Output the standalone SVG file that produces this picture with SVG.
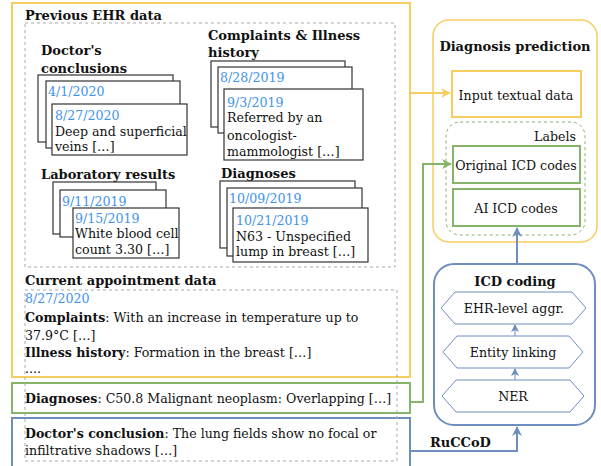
<svg xmlns="http://www.w3.org/2000/svg" width="601" height="466" viewBox="0 0 601 466">
<style>
text{font-family:"DejaVu Serif","Liberation Serif",serif;font-size:12.6px;fill:#111}
.b{font-weight:bold}
.d{fill:#3f92ee}
.t{font-weight:bold;font-size:13px}
.card{fill:#fff;stroke:#333;stroke-width:1.2}
.dash{fill:none;stroke:#aaa;stroke-width:1;stroke-dasharray:3 3}
.y{fill:none;stroke:#f6cd5f;stroke-width:2}
.g{fill:none;stroke:#85b369;stroke-width:2}
.bl{fill:none;stroke:#6d8ebf;stroke-width:2}
.c{text-anchor:middle}
</style>
<defs>
<marker id="ay" markerWidth="10" markerHeight="10" refX="9" refY="5" orient="auto" markerUnits="userSpaceOnUse"><path d="M0,0 L10,5 L0,10 L3,5 z" fill="#f6cd5f"/></marker>
<marker id="ag" markerWidth="10" markerHeight="10" refX="9" refY="5" orient="auto" markerUnits="userSpaceOnUse"><path d="M0,0 L10,5 L0,10 L3,5 z" fill="#85b369"/></marker>
<marker id="ab" markerWidth="10" markerHeight="10" refX="9" refY="5" orient="auto" markerUnits="userSpaceOnUse"><path d="M0,0 L10,5 L0,10 L3,5 z" fill="#6d8ebf"/></marker>
<marker id="abs" markerWidth="8" markerHeight="8" refX="7" refY="4" orient="auto" markerUnits="userSpaceOnUse"><path d="M0,0 L8,4 L0,8 L2,4 z" fill="#6d8ebf"/></marker>
</defs>

<g id="previous-ehr">
<rect class="y" x="12" y="3" width="398" height="374"/>
<rect class="dash" x="25" y="23" width="370" height="244"/>
<text class="t" x="25" y="20">Previous EHR data</text>
</g>

<g id="doctors-conclusions">
<text class="t" x="41" y="55">Doctor's</text>
<text class="t" x="41" y="73">conclusions</text>
<rect class="card" x="38" y="75" width="135" height="67"/>
<rect class="card" x="46" y="81" width="134" height="67"/>
<text class="d" x="48" y="96">4/1/2020</text>
<rect class="card" x="52" y="104" width="135" height="51"/>
<text class="d" x="55" y="120">8/27/2020</text>
<text x="55" y="136">Deep and superficial</text>
<text x="55" y="151">veins […]</text>
</g>

<g id="complaints-history">
<text class="t" x="208" y="40">Complaints &amp; Illness</text>
<text class="t" x="208" y="57">history</text>
<rect class="card" x="211" y="61" width="134" height="66"/>
<rect class="card" x="218" y="67" width="134" height="66"/>
<text class="d" x="220" y="82">8/28/2019</text>
<rect class="card" x="224" y="89" width="139" height="71"/>
<text class="d" x="227" y="107">9/3/2019</text>
<text x="227" y="122">Referred by an</text>
<text x="227" y="140">oncologist-</text>
<text x="227" y="156">mammologist  […]</text>
</g>

<g id="laboratory-results">
<text class="t" x="41" y="179">Laboratory results</text>
<rect class="card" x="53" y="182" width="103" height="52"/>
<rect class="card" x="60" y="190" width="106" height="47"/>
<text class="d" x="62" y="206">9/11/2019</text>
<rect class="card" x="73" y="208" width="106" height="50"/>
<text class="d" x="75" y="223">9/15/2019</text>
<text x="75" y="238">White blood cell</text>
<text x="75" y="254">count 3.30 […]</text>
</g>

<g id="diagnoses-prev">
<text class="t" x="221" y="178">Diagnoses</text>
<rect class="card" x="220" y="181" width="135" height="67"/>
<rect class="card" x="227" y="188" width="135" height="68"/>
<text class="d" x="229" y="203">10/09/2019</text>
<rect class="card" x="233" y="208" width="135" height="54"/>
<text class="d" x="236" y="225">10/21/2019</text>
<text x="236" y="241">N63 - Unspecified</text>
<text x="236" y="256">lump in breast […]</text>
</g>

<g id="current-appointment">
<text class="t" x="25" y="285">Current appointment data</text>
<text class="d" x="25" y="303">8/27/2020</text>
<text x="25" y="322"><tspan class="b">Complaints</tspan>: With an increase in temperature up to</text>
<text x="25" y="340">37.9°C […]</text>
<text x="25" y="357"><tspan class="b">Illness history</tspan>: Formation in the breast […]</text>
<text x="25" y="373">....</text>
</g>

<g id="current-diagnoses">
<rect class="g" x="12" y="383" width="398" height="30"/>
<text x="25" y="403"><tspan class="b">Diagnoses</tspan>: C50.8 Malignant neoplasm: Overlapping […]</text>
</g>

<g id="current-conclusion">
<rect class="bl" x="12" y="418" width="398" height="60"/>
<text x="25" y="438"><tspan class="b">Doctor's conclusion</tspan>: The lung fields show no focal or</text>
<text x="25" y="455">infiltrative shadows […]</text>
</g>
<rect class="dash" x="25" y="290" width="372" height="171"/>

<g id="diagnosis-prediction">
<rect fill="none" stroke="#f6cd5f" stroke-width="1.5" x="433" y="20" width="164" height="222" rx="16"/>
<text class="t c" x="515" y="51">Diagnosis prediction</text>
</g>
<g id="input-textual-data">
<rect class="y" x="452" y="71" width="129" height="46"/>
<text class="c" x="516" y="100">Input textual data</text>
</g>
<g id="labels">
<rect fill="none" stroke="#85b369" stroke-width="1" stroke-dasharray="3 3" x="446" y="122" width="139" height="113" rx="14"/>
<text x="576" y="141" text-anchor="end">Labels</text>
</g>
<g id="original-icd">
<rect class="g" x="453" y="146" width="127" height="37"/>
<text class="c" x="516" y="170">Original ICD codes</text>
</g>
<g id="ai-icd">
<rect class="g" x="453" y="189" width="127" height="37"/>
<text class="c" x="516" y="213">AI ICD codes</text>
</g>

<g id="icd-coding">
<rect class="bl" x="434" y="264" width="161" height="161" rx="20"/>
<text class="t c" x="515" y="286">ICD coding</text>
</g>
<g id="ehr-aggr">
<path d="M441,308 L455,292 L572,292 L586,308 L572,324 L455,324 Z" fill="#fff" stroke="#6d8ebf" stroke-width="1"/>
<text class="c" x="514" y="313">EHR-level aggr.</text>
</g>
<g id="entity-linking">
<path d="M443,352 L457,336 L569,336 L583,352 L569,368 L457,368 Z" fill="#fff" stroke="#6d8ebf" stroke-width="1"/>
<text class="c" x="513" y="357">Entity linking</text>
</g>
<g id="ner">
<path d="M442,396 L456,380 L570,380 L584,396 L570,412 L456,412 Z" fill="#fff" stroke="#6d8ebf" stroke-width="1"/>
<text class="c" x="513" y="401">NER</text>
</g>

<g id="connectors">
<path class="y" d="M410,93 L450,93" marker-end="url(#ay)"/>
<path class="g" d="M410,402 L423,402 L423,164 L451,164" marker-end="url(#ag)"/>
<path class="bl" d="M410,451 L517,451 L517,427" marker-end="url(#ab)"/>
<path class="bl" d="M517,263 L517,228" marker-end="url(#ab)"/>
<path fill="none" stroke="#6d8ebf" stroke-width="1" d="M515,336 L515,325" marker-end="url(#abs)"/>
<path fill="none" stroke="#6d8ebf" stroke-width="1" d="M515,380 L515,369" marker-end="url(#abs)"/>
<text class="t" x="430" y="447">RuCCoD</text>
</g>
</svg>
